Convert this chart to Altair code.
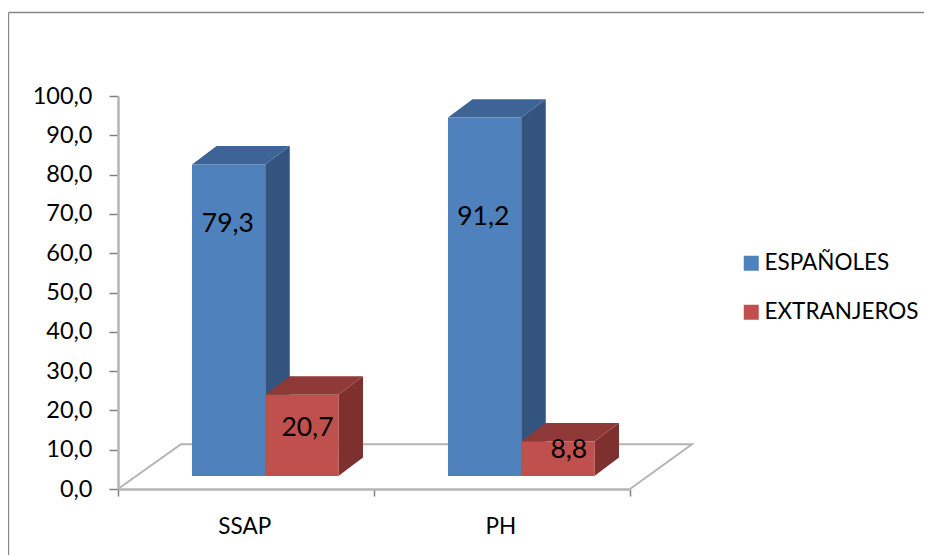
import altair as alt
import pandas as pd

categories = ["SSAP", "PH"]
series = ["ESPAÑOLES", "EXTRANJEROS"]
espanoles = [79.3, 91.2]
extranjeros = [20.7, 8.8]
label_texts = ["79,3", "91,2", "20,7", "8,8"]
label_heights = [67.4, 69.2, 15.5, 9.9]
label_shift = [-0.003, -0.005, 0.022, 0.043]

front_colors = ["#4F81BD", "#C0504D"]
side_colors = ["#33547E", "#7D302E"]
top_colors = ["#3D6494", "#8F3A38"]

BAR_START = 0.289
BAR_W = 0.286
DEPTH_X = 0.096
DEPTH_Y = 4.7
BASE = 3.3
W, H = 512, 393

x_s = alt.Scale(domain=[0, 2], nice=False, zero=False)
y_s = alt.Scale(domain=[0, 100], nice=False, zero=False)

x_axis = alt.Axis(
    values=[0, 1, 2], labels=False, title=None, grid=False, tickSize=7,
    tickColor="#808080", tickWidth=1.5, domainColor="#B4B4B4", domainWidth=2.5)
y_axis = alt.Axis(
    values=list(range(0, 101, 10)), title=None, grid=False, tickSize=9,
    tickColor="#808080", tickWidth=1.5, domainColor="#B4B4B4", domainWidth=2.5,
    labelExpr="replace(format(datum.value, '.1f'), '.', ',')",
    labelFont="Lato", labelFontSize=23.5, labelColor="#000000", labelPadding=17)

front, side, top = [], [], []
for s, vals in enumerate([espanoles, extranjeros]):
    for c, v in enumerate(vals):
        x0 = c + BAR_START + s * BAR_W
        x1 = x0 + BAR_W
        t = BASE + v
        key = f"{s}-{c}"
        front.append(dict(serie=series[s], x=x0, x2=x1, y=BASE, y2=t))
        side += [
            dict(k=key, s=s, x=x1, lo=BASE, hi=t),
            dict(k=key, s=s, x=x1 + DEPTH_X, lo=BASE + DEPTH_Y, hi=t + DEPTH_Y),
        ]
        top += [
            dict(k=key, s=s, y=t, a=x0, b=x1),
            dict(k=key, s=s, y=t + DEPTH_Y, a=x0 + DEPTH_X, b=x1 + DEPTH_X),
        ]
front, side, top = pd.DataFrame(front), pd.DataFrame(side), pd.DataFrame(top)

X = lambda f: alt.X(f, type="quantitative", scale=x_s, axis=x_axis)
Y = lambda f: alt.Y(f, type="quantitative", scale=y_s, axis=y_axis)

frame_top = alt.Chart(pd.DataFrame({"a": [0]})).mark_rule(color="#868686", strokeWidth=1.3).encode(
    x=alt.value(-109.5), x2=alt.value(806), y=alt.value(-83.5))
frame_left = alt.Chart(pd.DataFrame({"a": [0]})).mark_rule(color="#868686", strokeWidth=1.3).encode(
    x=alt.value(-109.5), y=alt.value(-83.5), y2=alt.value(459))

floor = alt.Chart(pd.DataFrame({
    "o": [0, 1, 2, 3],
    "x": [0, 0.246, 2.242, 2],
    "y": [0, 11.4, 11.4, 0],
})).mark_line(color="#B4B4B4", strokeWidth=2).encode(x=X("x"), y=Y("y"), order="o:O")

layers = [frame_top, frame_left, floor]
for s in range(2):
    layers.append(alt.Chart(side[side.s == s]).mark_area(color=side_colors[s], orient="vertical").encode(
        x=X("x"), y=Y("hi"), y2="lo:Q", detail="k:N"))
    layers.append(alt.Chart(top[top.s == s]).mark_area(color=top_colors[s], orient="horizontal").encode(
        y=Y("y"), x=X("a"), x2="b:Q", detail="k:N"))

fronts = alt.Chart(front).mark_rect().encode(
    x=X("x"), x2="x2:Q", y=Y("y"), y2="y2:Q",
    color=alt.Color("serie:N", scale=alt.Scale(domain=series, range=front_colors), legend=alt.Legend(
        orient="none", legendX=622, legendY=156, title=None, symbolType="square", symbolSize=225,
        symbolStrokeWidth=0, labelFont="Lato", labelFontSize=22.5, labelColor="#000000",
        labelOffset=2, rowPadding=26, labelLimit=300)),
)
layers.append(fronts)

label_x = [i + BAR_START + BAR_W / 2 for i in range(2)] + [i + BAR_START + 1.5 * BAR_W for i in range(2)]
labels = alt.Chart(pd.DataFrame({
    "t": label_texts, "x": [a + b for a, b in zip(label_x, label_shift)], "y": label_heights,
})).mark_text(font="Lato", fontSize=26.5, color="#000000").encode(x=X("x"), y=Y("y"), text="t:N")
layers.append(labels)

cat = alt.Chart(pd.DataFrame({"t": categories, "x": [0.495, 1.495]})).mark_text(
    font="Lato", fontSize=22.5, color="#000000").encode(x=X("x"), y=alt.value(431), text="t:N")
layers.append(cat)

chart = alt.layer(*layers).resolve_scale(color="independent").properties(
    width=W, height=H,
    autosize=alt.AutoSizeParams(type="none"),
    padding={"left": 110, "top": 88, "right": 294, "bottom": 66},
    background="white",
).configure_view(stroke=None)

chart.save("out.html", embed_options={"renderer": "svg", "actions": False})
